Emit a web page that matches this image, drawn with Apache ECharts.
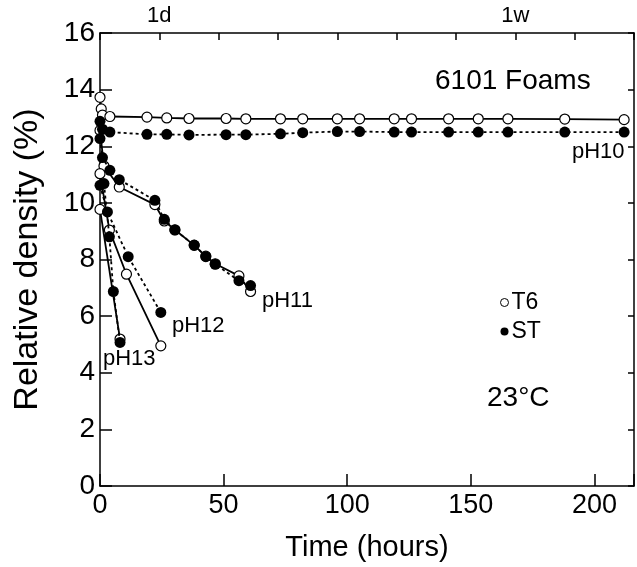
<!DOCTYPE html>
<html lang="en">
<head>
    <meta charset="UTF-8">
    <title>6101 Foams - relative density</title>
    <script src="https://cdn.jsdelivr.net/npm/echarts@6/dist/echarts.min.js"></script>
    <style>
        html, body { margin: 0; padding: 0; background: #fff; }
        #chart { width: 637px; height: 567px; }
    </style>
</head>
<body>
<div id="chart"></div>
<script>
    // tick labels
    var xTicks = [0, 50, 100, 150, 200];
    var yTicks = [0, 2, 4, 6, 8, 10, 12, 14, 16];
    var topLabels = { 24: '1d', 168: '1w' };

    // T6 (open circles, solid line)
    var t6pH10Hours = [0, 0.5, 1, 4, 19, 27, 36, 51, 59, 73, 82, 96, 105, 119, 126, 141, 153, 165, 188, 212];
    var t6pH10Vals  = [13.73, 13.32, 13.1, 13.05, 13.03, 13.0, 12.98, 12.98, 12.97, 12.97, 12.97, 12.97, 12.97, 12.97, 12.97, 12.97, 12.97, 12.97, 12.96, 12.94];
    var t6pH11Hours = [0, 1.6, 7.8, 22.2, 26, 30.3, 38.1, 42.8, 46.6, 56.2, 60.9];
    var t6pH11Vals  = [12.56, 11.3, 10.56, 9.94, 9.36, 9.05, 8.5, 8.12, 7.85, 7.42, 6.87];
    var t6pH12Hours = [0, 3.8, 10.7, 24.6];
    var t6pH12Vals  = [11.03, 9.04, 7.48, 4.95];
    var t6pH13Hours = [0, 8.1];
    var t6pH13Vals  = [9.77, 5.19];

    // ST (filled circles, dotted line)
    var stpH10Hours = [0, 1, 4, 19, 27, 36, 51, 59, 73, 82, 96, 105, 119, 126, 141, 153, 165, 188, 212];
    var stpH10Vals  = [12.88, 12.6, 12.5, 12.42, 12.42, 12.4, 12.41, 12.41, 12.44, 12.48, 12.52, 12.52, 12.5, 12.5, 12.5, 12.5, 12.5, 12.5, 12.5];
    var stpH11Hours = [0, 1, 4, 7.8, 22.2, 26, 30.3, 38.1, 42.8, 46.6, 56.2, 60.9];
    var stpH11Vals  = [12.27, 11.6, 11.15, 10.82, 10.09, 9.42, 9.04, 8.51, 8.1, 7.83, 7.25, 7.08];
    var stpH12Hours = [0, 3, 11.4, 24.6];
    var stpH12Vals  = [10.62, 9.68, 8.1, 6.13];
    var stpH13Hours = [1.6, 3.8, 5.4, 8.1];
    var stpH13Vals  = [10.68, 8.8, 6.87, 5.07];

    var fontFam = 'Liberation Sans, Arial, sans-serif';

    function pairs(xs, ys) {
        return xs.map(function (x, i) { return [x, ys[i]]; });
    }

    function t6Series(xs, ys) {
        return {
            name: 'T6', type: 'line', xAxisIndex: 0, yAxisIndex: 0,
            data: pairs(xs, ys),
            symbol: 'circle', symbolSize: 10,
            itemStyle: { color: '#fff', borderColor: '#000', borderWidth: 1.2 },
            lineStyle: { color: '#000', width: 1.8, type: 'solid' },
            z: 3
        };
    }

    function stSeries(xs, ys) {
        return {
            name: 'ST', type: 'line', xAxisIndex: 0, yAxisIndex: 0,
            data: pairs(xs, ys),
            symbol: 'circle', symbolSize: 11,
            itemStyle: { color: '#000', borderColor: '#000', borderWidth: 0 },
            lineStyle: { color: '#000', width: 1.8, type: [3, 3] },
            z: 4
        };
    }

    var axisLine = { show: true, onZero: false, lineStyle: { color: '#000', width: 1.5 } };

    var option = {
        animation: false,
        backgroundColor: '#fff',
        grid: { left: 100, top: 33, right: 2, bottom: 80 },
        legend: {
            orient: 'vertical', left: 495, top: 286, itemGap: 6,
            itemWidth: 8, itemHeight: 8, icon: 'circle',
            textStyle: { fontFamily: fontFam, fontSize: 23, color: '#000', padding: [0, 0, 0, -2] },
            data: [
                { name: 'T6', itemStyle: { color: '#fff', borderColor: '#000', borderWidth: 1 } },
                { name: 'ST', itemStyle: { color: '#000', borderColor: '#000' } }
            ]
        },
        xAxis: [
            {
                type: 'value', position: 'bottom', min: 0, max: 216, interval: 50,
                name: 'Time (hours)', nameLocation: 'middle', nameGap: 47,
                nameTextStyle: { fontFamily: fontFam, fontSize: 29, color: '#000' },
                axisLine: axisLine,
                axisTick: { inside: true, length: 12, lineStyle: { color: '#000', width: 1.5 } },
                axisLabel: {
                    fontFamily: fontFam, fontSize: 27, color: '#000', margin: 6,
                    formatter: function (v) { return xTicks.indexOf(v) >= 0 ? String(v) : ''; }
                },
                splitLine: { show: false }
            },
            {
                type: 'value', position: 'top', min: 0, max: 216, interval: 24,
                axisLine: axisLine,
                axisTick: { inside: true, length: 7, lineStyle: { color: '#000', width: 1.5 } },
                axisLabel: {
                    fontFamily: fontFam, fontSize: 22, color: '#000', margin: 6,
                    formatter: function (v) { return topLabels[v] || ''; }
                },
                splitLine: { show: false }
            }
        ],
        yAxis: [
            {
                type: 'value', position: 'left', min: 0, max: 16, interval: 2,
                name: 'Relative density (%)', nameLocation: 'middle', nameGap: 55,
                nameTextStyle: { fontFamily: fontFam, fontSize: 34, color: '#000' },
                axisLine: axisLine,
                axisTick: { inside: true, length: 12, lineStyle: { color: '#000', width: 1.5 } },
                axisLabel: {
                    fontFamily: fontFam, fontSize: 28, color: '#000', margin: 5,
                    formatter: function (v) { return yTicks.indexOf(v) >= 0 ? String(v) : ''; }
                },
                splitLine: { show: false }
            },
            {
                type: 'value', position: 'right', min: 0, max: 16, interval: 2,
                axisLine: axisLine,
                axisTick: { inside: true, length: 6, lineStyle: { color: '#000', width: 1.5 } },
                axisLabel: { show: false },
                splitLine: { show: false }
            }
        ],
        graphic: [
            { type: 'text', left: 435, top: 67, style: { text: '6101 Foams', font: '28px ' + fontFam, fill: '#000' } },
            { type: 'text', left: 572, top: 141, style: { text: 'pH10', font: '22px ' + fontFam, fill: '#000' } },
            { type: 'text', left: 262, top: 290, style: { text: 'pH11', font: '22px ' + fontFam, fill: '#000' } },
            { type: 'text', left: 172, top: 315, style: { text: 'pH12', font: '22px ' + fontFam, fill: '#000' } },
            { type: 'text', left: 103, top: 348, style: { text: 'pH13', font: '22px ' + fontFam, fill: '#000' } },
            { type: 'text', left: 487, top: 384, style: { text: '23°C', font: '28px ' + fontFam, fill: '#000' } }
        ],
        series: [
            t6Series(t6pH10Hours, t6pH10Vals),
            t6Series(t6pH11Hours, t6pH11Vals),
            t6Series(t6pH12Hours, t6pH12Vals),
            t6Series(t6pH13Hours, t6pH13Vals),
            stSeries(stpH10Hours, stpH10Vals),
            stSeries(stpH11Hours, stpH11Vals),
            stSeries(stpH12Hours, stpH12Vals),
            stSeries(stpH13Hours, stpH13Vals)
        ]
    };

    var myChart = echarts.init(document.getElementById('chart'));
    myChart.setOption(option);
</script>
</body>
</html>
